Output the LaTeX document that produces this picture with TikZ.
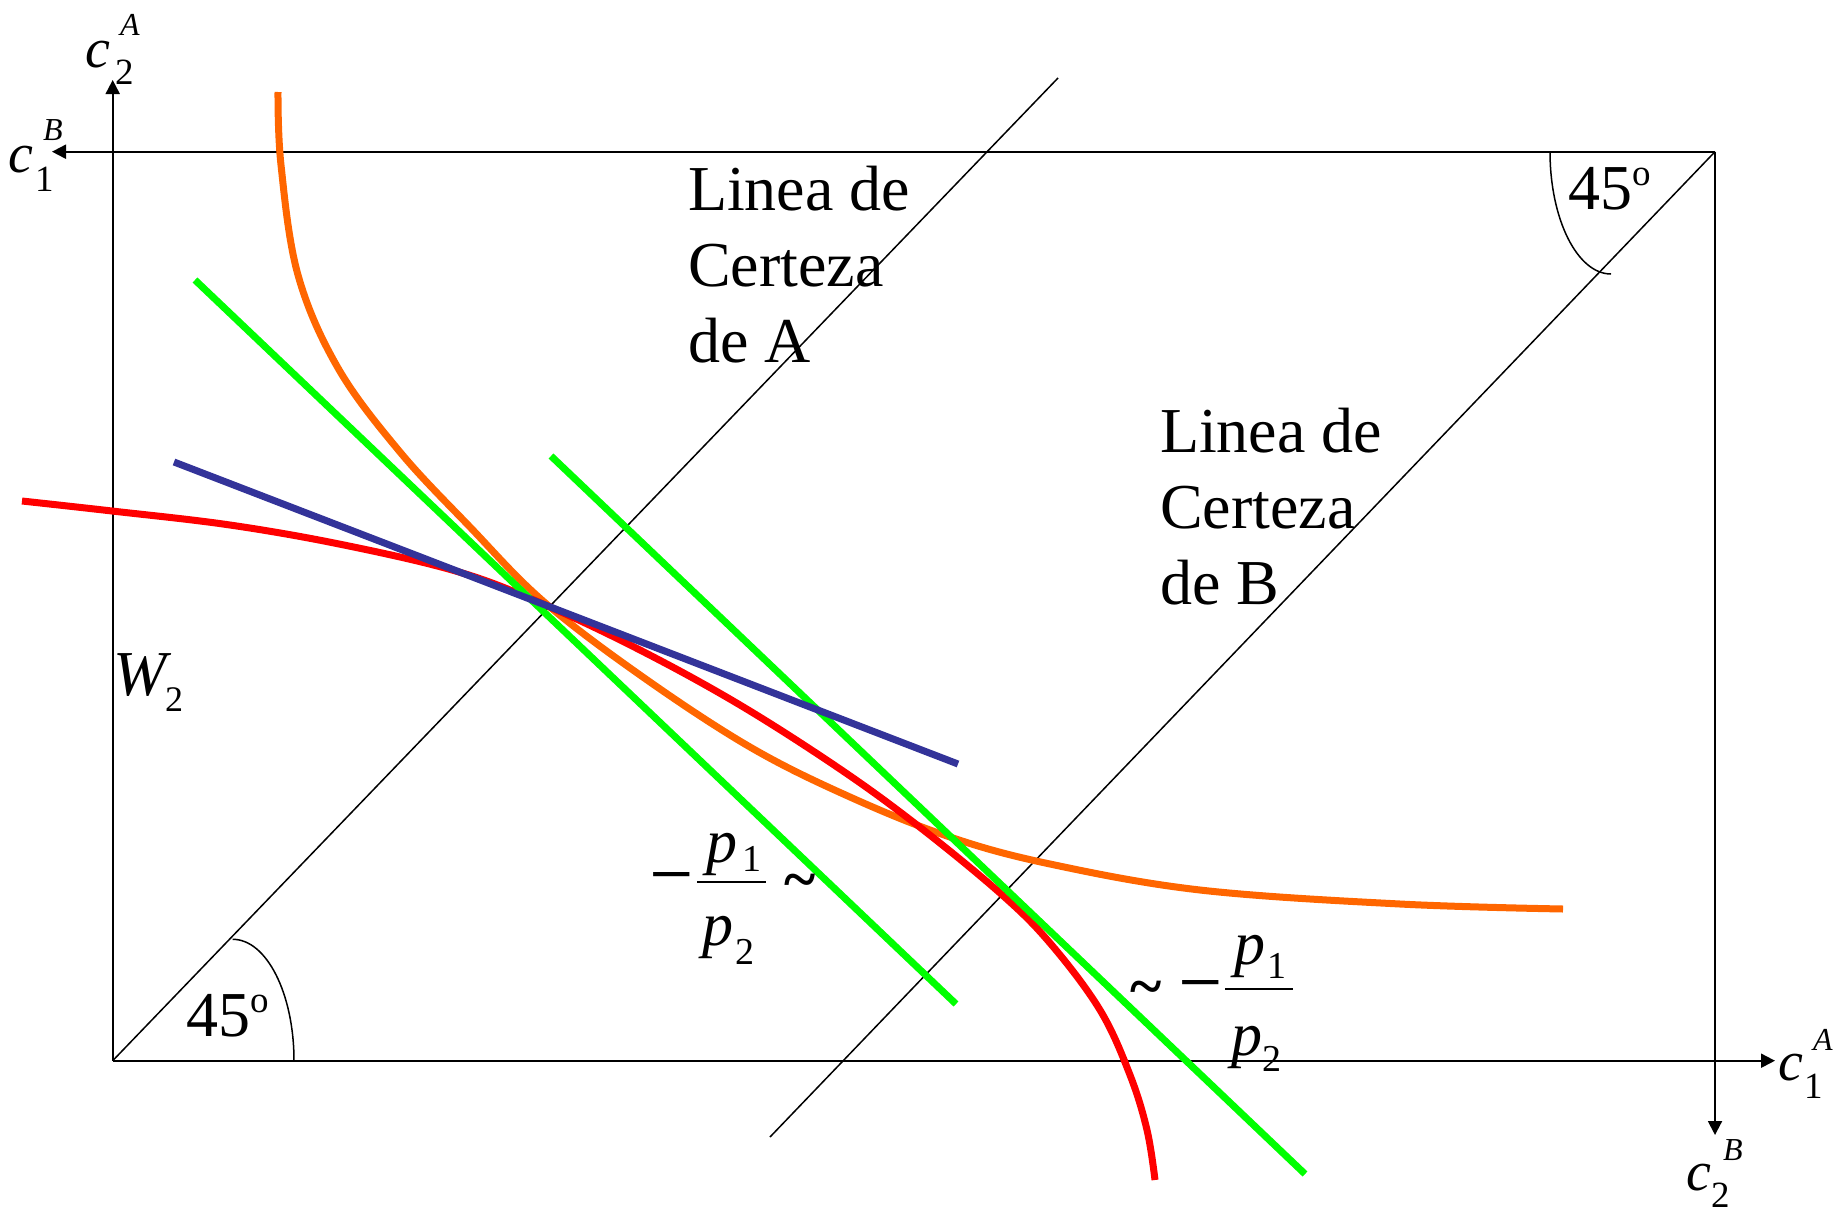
\documentclass[tikz,border=0pt]{standalone}
\usepackage{fontspec}
\setmainfont{Liberation Serif}
\usetikzlibrary{arrows.meta}
\newcommand{\fs}[1]{\fontsize{#1}{#1}\selectfont}
\definecolor{orangeC}{HTML}{FF6600}
\definecolor{redC}{HTML}{FF0000}
\definecolor{greenC}{HTML}{00FF00}
\definecolor{blueC}{HTML}{333399}
\begin{document}
\begin{tikzpicture}[x=1pt,y=-1pt,
  axis/.style={line width=2pt,-{Triangle[length=14pt,width=14pt]}},
  guide/.style={line width=1.5pt},
  curve/.style={line width=7pt},
  lbl/.style={inner sep=0pt,outer sep=0pt,anchor=base west},
  cfont/.style={font={\fs{56}\itshape}},
  subfont/.style={font={\fs{37}}},
  supfont/.style={font={\fs{32}\itshape}},
  textfont/.style={font={\fs{64}}},
  minusfont/.style={font={\fs{60}\bfseries}},
]
\useasboundingbox (0,0) rectangle (1843,1223);
% corners
\coordinate (O) at (112.7,1060.7);
\coordinate (TR) at (1715,151.7);
\coordinate (yA) at (112.7,80);
\coordinate (xB) at (52,151.7);
\coordinate (xA) at (1775,1060.7);
\coordinate (yB) at (1715,1135);
\coordinate (LAend) at (1058,78);
\coordinate (LBend) at (770,1137);
% certainty lines
\draw[guide] (O) -- (LAend);
\draw[guide] (TR) -- (LBend);
% angle arcs
\draw[guide] (294,1060.7) .. controls (294,993.7) and (266.6,939.3) .. (232.7,939.3);
\draw[guide] (1550,151.7) .. controls (1550,219.2) and (1577.3,274) .. (1611,274);
% axes
\draw[axis] (O) -- (yA);
\draw[axis] (TR) -- (xB);
\draw[axis] (O) -- (xA);
\draw[axis] (TR) -- (yB);
% curves
\draw[curve,orangeC] plot[smooth,tension=0.6] coordinates {(278,92) (281,165) (298,275) (338,368) (400,452) (470,527) (543,601) (640,675) (750,747) (850,797) (950,837) (1050,864) (1200,890) (1400,904) (1563,909)};
\draw[curve,redC] plot[smooth,tension=0.6] coordinates {(22,501) (112,511) (230,525) (344,545) (459,572) (543,604) (640,650) (740,705) (840,769) (917,825) (1000,893) (1050,943) (1100,1010) (1130,1075) (1147,1130) (1155,1180)};
\draw[curve,greenC] (195,280) -- (956,1004);
\draw[curve,greenC] (551,456) -- (1305,1174);
\draw[curve,blueC] (174,462) -- (958,764);
% axis labels
\node[lbl,cfont] (c2A) at (85,67) {c};
\node[lbl,subfont] (c2Asub) at (115,84) {2};
\node[lbl,supfont] (c2Asup) at (120,36) {A};
\node[lbl,cfont] (c1B) at (9,172) {c};
\node[lbl,subfont] (c1Bsub) at (35,191) {1};
\node[lbl,supfont] (c1Bsup) at (43,140) {B};
\node[lbl,cfont] (c1A) at (1778,1080) {c};
\node[lbl,subfont] (c1Asub) at (1804,1098) {1};
\node[lbl,supfont] (c1Asup) at (1813,1050) {A};
\node[lbl,cfont] (c2B) at (1686,1190) {c};
\node[lbl,subfont] (c2Bsub) at (1711,1207) {2};
\node[lbl,supfont] (c2Bsup) at (1723,1160) {B};
\node[lbl,font={\fs{64}\itshape}] (W) at (113,695) {W};
\node[lbl,font={\fs{36}}] (Wsub) at (165,711) {2};
% certainty labels
\node[lbl,textfont] (certA) at (688,210) {\vtop{\baselineskip=76pt\hbox{Linea de}\hbox{Certeza}\hbox{de A}}};
\node[lbl,textfont] (certB) at (1160,452) {\vtop{\baselineskip=76pt\hbox{Linea de}\hbox{Certeza}\hbox{de B}}};
% angles
\node[lbl,textfont] (ang1) at (186,1036) {45\raisebox{24pt}{\fs{37}o}};
\node[lbl,textfont] (ang2) at (1568,209) {45\raisebox{24pt}{\fs{37}o}};
% price ratio labels
\node[lbl,minusfont] (m1) at (649,894) {\scalebox{1.3}[1]{−}};
\draw[line width=1.5pt] (697,882) -- (766,882);
\node[lbl,font={\fs{62}\itshape}] (p1a) at (706,862) {p};
\node[lbl,font={\fs{38}}] (p1asub) at (742,871) {1};
\node[lbl,font={\fs{62}\itshape}] (p2a) at (702,945) {p};
\node[lbl,font={\fs{38}}] (p2asub) at (735,964) {2};
\node[lbl,font={\fs{60}\bfseries}] (t1) at (784,899) {\textasciitilde};
\node[lbl,font={\fs{60}\bfseries}] (t2) at (1130,1006) {\textasciitilde};
\node[lbl,minusfont] (m2) at (1178,1002) {\scalebox{1.3}[1]{−}};
\draw[line width=1.5pt] (1225,989) -- (1293,989);
\node[lbl,font={\fs{62}\itshape}] (p1b) at (1234,964) {p};
\node[lbl,font={\fs{38}}] (p1bsub) at (1267,978) {1};
\node[lbl,font={\fs{62}\itshape}] (p2b) at (1231,1055) {p};
\node[lbl,font={\fs{38}}] (p2bsub) at (1262,1071) {2};
\end{tikzpicture}
\end{document}
